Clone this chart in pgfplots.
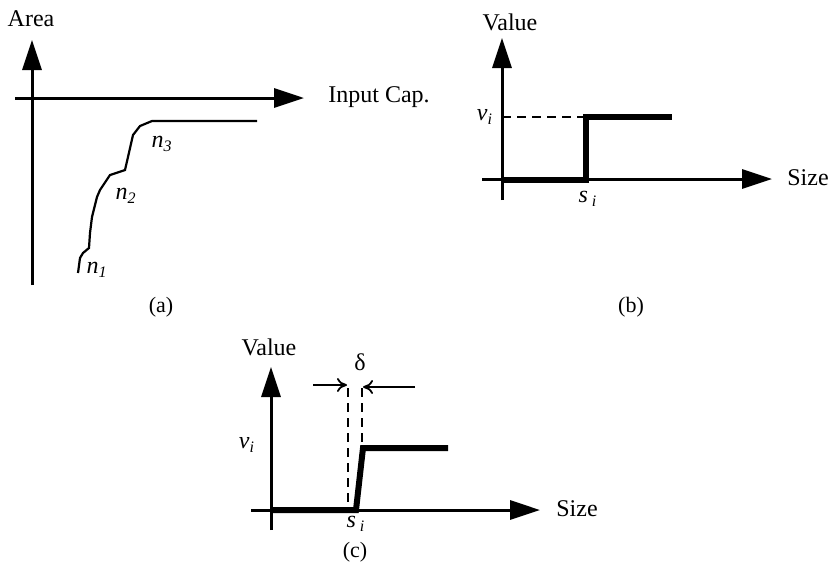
\documentclass[border=0pt]{standalone}
\usepackage{fontspec}
\setmainfont{Liberation Serif}
\usepackage{pgfplots}
\pgfplotsset{compat=1.18}
\usetikzlibrary{arrows.meta}

\begin{document}
\fontsize{12pt}{14pt}\selectfont
\begin{tikzpicture}
\begin{axis}[
  width=416pt, height=282pt, scale only axis,
  xmin=0, xmax=832, ymin=0, ymax=564, y dir=reverse,
  axis lines=none, clip=false, enlargelimits=false,
  ax/.style={line width=1.5pt, -{Triangle[length=15pt,width=9.5pt]}},
  step/.style={line width=3pt, line join=miter},
  dsh/.style={line width=0.8pt, dash pattern=on 4.5pt off 3pt},
]
\coordinate (bl) at (axis cs:0,564);
\coordinate (tr) at (axis cs:832,0);

% ---- (a) area versus input capacitance
\addplot[ax] coordinates {(32,285) (32,40)};
\addplot[ax] coordinates {(15,98) (304,98)};
\addplot[black, line width=1.1pt] coordinates {
  (78,273) (80,258) (83,253) (89,248) (90,233) (92,217) (97,197)
  (100,190) (110,175) (125,170) (128,157) (133,135) (140,126)
  (152,121) (257,121)};
\node[anchor=base] at (axis cs:31,26) {Area};
\node[anchor=west] at (axis cs:320,97) {Input Cap.};
\node at (axis cs:162,144) {\textit{n\textsubscript{3}}};
\node at (axis cs:126,196) {\textit{n\textsubscript{2}}};
\node at (axis cs:97,270) {\textit{n\textsubscript{1}}};
\node at (axis cs:161,307) {\fontsize{11pt}{13pt}\selectfont(a)};

% ---- (b) ideal step
\addplot[ax] coordinates {(502,200) (502,38)};
\addplot[ax] coordinates {(482,179) (772,179)};
\addplot[dsh] coordinates {(502,117) (586,117)};
\addplot[step] coordinates {(502,180) (586,180) (586,117) (672,117)};
\node at (axis cs:510,22) {Value};
\node at (axis cs:808,178) {Size};
\node at (axis cs:485,117) {\textit{v\textsubscript{i}}};
\node at (axis cs:588,199) {\textit{s\,\textsubscript{i}}};
\node at (axis cs:631,307) {\fontsize{11pt}{13pt}\selectfont(b)};

% ---- (c) step with transition width delta
\addplot[ax] coordinates {(271,530) (271,367)};
\addplot[ax] coordinates {(251,510) (540,510)};
\addplot[dsh] coordinates {(348,388) (348,510)};
\addplot[dsh] coordinates {(362,388) (362,448)};
\addplot[line width=0.9pt, -{To[length=5pt,width=7pt]}] coordinates {(313,385) (347,385)};
\addplot[line width=0.9pt, -{To[length=5pt,width=7pt]}] coordinates {(415,387) (363,387)};
\addplot[step] coordinates {(271,510) (356,510) (363,448) (448,448)};
\node at (axis cs:269,347) {Value};
\node at (axis cs:360,362) {δ};
\node at (axis cs:577,509) {Size};
\node at (axis cs:247,445) {\textit{v\textsubscript{i}}};
\node at (axis cs:356,524) {\textit{s\,\textsubscript{i}}};
\node at (axis cs:355,552) {\fontsize{11pt}{13pt}\selectfont(c)};
\end{axis}
\pgfresetboundingbox
\path[use as bounding box] (bl) rectangle (tr);
\end{tikzpicture}
\end{document}
